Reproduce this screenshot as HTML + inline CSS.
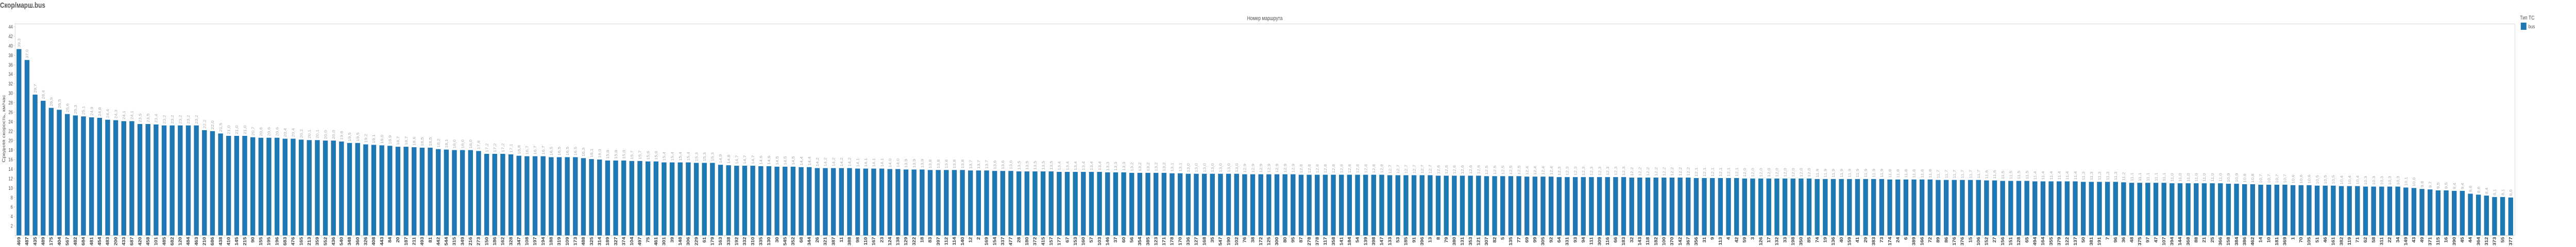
<!DOCTYPE html>
<html><head><meta charset="utf-8">
<meta name="viewport" content="width=6389, initial-scale=1">
<style>
html,body{margin:0;padding:0;background:#fff;width:100%;height:100%;overflow:hidden;}
body{font-family:"Liberation Sans","Noto Sans CJK SC",sans-serif;}
svg{display:block;}
svg text{font-family:"Liberation Sans","Noto Sans CJK SC",sans-serif;}
</style></head>
<body>
<svg id="chart" width="100%" height="100%" viewBox="0 0 6389 480" preserveAspectRatio="none" xmlns="http://www.w3.org/2000/svg">
  <text x="0" y="15" font-size="15" font-weight="bold" fill="#555">Скор/марш.bus</text>
  <text x="3137" y="39" font-size="11" fill="#555" text-anchor="middle">Номер маршрута</text>
  <text transform="translate(13,250) rotate(-90)" font-size="11" fill="#555" text-anchor="middle">Средняя скорость, км/час</text>
  <rect x="37.5" y="46.5" width="6200" height="411" fill="none" stroke="#d4d4d4" stroke-width="1"/>
  <g id="yaxis"></g>
  <g id="bars"></g>
  <g id="xaxis"></g>
  <g>
    <text x="6250" y="38" font-size="11" fill="#555">Тип ТС</text>
    <rect x="6252" y="44" width="14" height="14" fill="#1f77b4"/>
    <text x="6271" y="55" font-size="10" fill="#555">bus</text>
  </g>
</svg>
<script>
const categories = ["469","487","435","489","175","404","567","482","684","481","454","483","200",
"433","687","420","458","101","485","682","120","484","463","210","686","438","410","145","215","90","155","195","196","683","476","165","213","359","552","436","540","348","360","326","408","443","84",
"20","187","211","493","81","442","544","315","349","216","273","150","186","162","328","347","108","197","194","188","319","109","173","488","325","314","189","327","374","104","497","75","461","301","39","148","306",
"229","61","179","163","338","192","332","310","335","130","30","545","352","68","344","26","321","387","11","388","98","110","167","23","124","138","129","322","18","83","397","112","114","140","12","2","169",
"154","337","477","28","180","372","415","157","177","67","153","160","57","103","146","37","60","56","354","385","123","171","178","170","336","127","168","35","547","190","102","76","38","172","125","300","80",
"95","87","278","378","117","358","141","184","54","139","398","147","133","53","185","91","396","13","8","79","380","131","353","121","307","82","5","135","77","69","99","305","92","64","331","93","94",
"111","309","116","66","183","32","143","118","182","100","370","142","367","356","31","9","113","4","42","59","3","126","17","132","33","198","350","85","74","19","136","40","159","41","29","383","73",
"174","24","6","389","166","72","89","86","176","376","15","106","152","27","156","151","128","65","494","164","355","379","122","137","50","381","191","7","96","36","48","375","97","47","107","394","144",
"368","88","21","25","366","158","384","386","462","14","10","181","369","1","70","105","51","46","161","382","119","71","62","58","311","22","34","149","43","49","371","115","16","390","45","44","364",
"312","373","55","377"];
const speeds = [39.3,37.0,29.7,28.4,26.9,26.5,25.6,25.3,25.1,24.9,24.8,24.4,24.3,
24.1,24.1,23.5,23.5,23.4,23.2,23.2,23.2,23.2,23.2,22.2,22.0,21.5,21.0,21.0,21.0,20.7,20.6,20.6,20.6,20.4,20.4,20.2,20.1,20.1,20.0,20.0,19.8,19.5,19.5,19.2,19.1,19.0,18.9,
18.7,18.7,18.6,18.5,18.5,18.2,18.1,18.0,18.0,18.0,17.8,17.2,17.2,17.2,17.1,16.8,16.7,16.7,16.7,16.5,16.5,16.5,16.5,16.3,16.1,16.0,15.8,15.8,15.8,15.7,15.7,15.6,15.6,15.4,15.4,15.4,15.4,
15.3,15.3,15.3,14.9,14.8,14.7,14.7,14.7,14.6,14.6,14.5,14.5,14.5,14.4,14.4,14.2,14.2,14.2,14.2,14.2,14.1,14.1,14.1,14.1,14.0,14.0,13.9,13.9,13.9,13.8,13.8,13.8,13.8,13.8,13.7,13.7,13.7,
13.6,13.6,13.6,13.5,13.5,13.5,13.5,13.5,13.4,13.4,13.4,13.4,13.4,13.4,13.3,13.3,13.3,13.2,13.2,13.2,13.2,13.2,13.1,13.1,13.0,13.0,13.0,13.0,13.0,13.0,13.0,12.9,12.9,12.9,12.9,12.9,12.9,
12.9,12.8,12.8,12.8,12.8,12.8,12.8,12.8,12.8,12.8,12.8,12.8,12.7,12.7,12.7,12.7,12.7,12.7,12.6,12.6,12.6,12.6,12.6,12.6,12.5,12.5,12.5,12.5,12.5,12.4,12.4,12.4,12.4,12.3,12.3,12.3,12.3,
12.3,12.3,12.3,12.3,12.3,12.2,12.2,12.2,12.2,12.2,12.2,12.2,12.2,12.1,12.1,12.1,12.1,12.1,12.1,12.0,12.0,12.0,12.0,12.0,12.0,12.0,12.0,12.0,11.9,11.9,11.9,11.9,11.9,11.9,11.9,11.9,11.9,
11.8,11.8,11.8,11.8,11.8,11.8,11.7,11.7,11.7,11.7,11.7,11.7,11.6,11.6,11.5,11.5,11.5,11.5,11.4,11.4,11.4,11.4,11.4,11.4,11.3,11.3,11.3,11.3,11.3,11.2,11.1,11.1,11.1,11.1,11.1,11.0,11.0,
11.0,11.0,11.0,11.0,11.0,10.9,10.9,10.8,10.8,10.7,10.7,10.7,10.7,10.6,10.6,10.6,10.5,10.5,10.5,10.4,10.4,10.4,10.3,10.3,10.3,10.3,10.3,10.1,10.0,9.8,9.7,9.5,9.5,9.4,9.4,8.8,8.6,
8.4,8.1,8.1,8.0];
const yTicks = [2,4,6,8,10,12,14,16,18,20,22,24,26,28,30,32,34,36,38,40,42,44];

const NS = "http://www.w3.org/2000/svg";
const plotLeft = 37, plotRight = 6237, plotBottom = 457.5;
const band = (plotRight - plotLeft) / categories.length;
const barW = band * 0.6;
const pxPerUnit = 9.215;
function yScale(v){ return plotBottom - v * pxPerUnit; }
function xScale(i){ return plotLeft + i * band; }
function mk(tag, attrs){ const e = document.createElementNS(NS, tag); for (const k in attrs) e.setAttribute(k, attrs[k]); return e; }

const yAxis = document.getElementById('yaxis');
yTicks.forEach(t => {
  const y = yScale(t);
  const tk = mk('line', {x1: plotLeft - 4, x2: plotLeft, y1: y, y2: y, stroke: '#d4d4d4'});
  
  
  yAxis.appendChild(tk);
  const lb = mk('text', {x: plotLeft - 5, y: y + 3.5, 'font-size': 10, fill: '#555', 'text-anchor': 'end'});
  lb.textContent = t;
  
  
  yAxis.appendChild(lb);
});

const barsG = document.getElementById('bars');
const xAxis = document.getElementById('xaxis');
speeds.forEach((v, i) => {
  const x0 = xScale(i);
  const cx = x0 + band / 2;
  const y = yScale(v);
  const r = mk('rect', {x: cx - barW / 2, y: y, width: barW, height: plotBottom - y, fill: '#1f77b4'});
  
  
  barsG.appendChild(r);
  const vl = mk('text', {transform: 'translate(' + (cx + 3.5) + ',' + (y - 3) + ') rotate(-90)', 'font-size': 9, fill: '#aaa'});
  vl.textContent = v.toFixed(1).replace('.', ',');
  
  
  barsG.appendChild(vl);
  const tk = mk('line', {x1: x0 + 0.5, x2: x0 + 0.5, y1: plotBottom, y2: plotBottom + 4, stroke: '#d4d4d4'});
  
  
  xAxis.appendChild(tk);
  const xl = mk('text', {transform: 'translate(' + (cx + 3.5) + ',' + (plotBottom + 3) + ') rotate(-90)', 'font-size': 10, 'font-weight': 'bold', fill: '#444', 'text-anchor': 'end'});
  xl.textContent = categories[i];
  
  
  xAxis.appendChild(xl);
});
</script>
</body></html>
